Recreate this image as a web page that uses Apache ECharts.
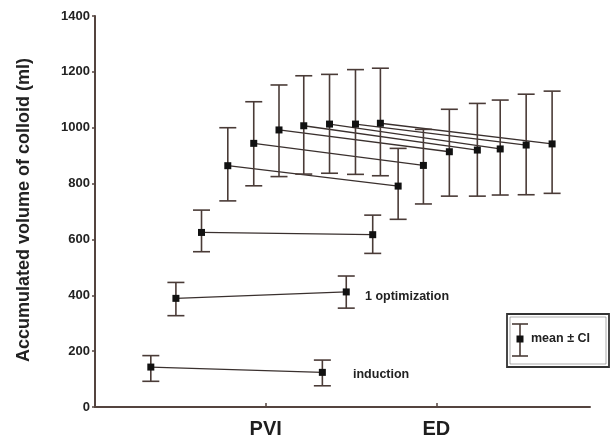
<!DOCTYPE html>
<html>
<head>
<meta charset="utf-8">
<script src="https://cdn.jsdelivr.net/npm/echarts@6/dist/echarts.min.js"></script>
<style>
html,body{margin:0;padding:0;background:#fff;}
#chart{width:612px;height:442px;}
</style>
</head>
<body>
<div id="chart"></div>
<script>
// x positions (axis units: PVI = 1, ED = 2)
var pviX = [0.327, 0.474, 0.624, 0.778, 0.930, 1.078, 1.223, 1.374, 1.526, 1.672];
var edX  = [1.332, 1.472, 1.627, 1.776, 1.924, 2.076, 2.240, 2.374, 2.526, 2.678];
// values (ml)
var pviMean = [143, 389, 625, 864, 944, 992, 1007, 1013, 1013, 1016];
var pviLow  = [92, 327, 556, 738, 792, 825, 834, 837, 833, 828];
var pviHigh = [184, 446, 705, 1000, 1093, 1153, 1186, 1191, 1208, 1213];
var edMean  = [124, 412, 617, 791, 865, 914, 920, 924, 938, 942];
var edLow   = [76, 354, 550, 672, 727, 755, 755, 759, 760, 765];
var edHigh  = [168, 469, 687, 926, 994, 1066, 1087, 1099, 1120, 1131];
var xTickValues = [1, 2];
var xTickLabels = ['PVI', 'ED'];
var yTicks = [0, 200, 400, 600, 800, 1000, 1200, 1400];
var yTitle = 'Accumulated volume of colloid (ml)';
var annotations = ['induction', '1 optimization'];
var legendText = 'mean \u00b1 CI';

var font = '"Liberation Sans", Arial, sans-serif';
var axisColor = '#54443f';
var barColor = '#4a3b37';
var lineColor = '#3a302e';

var errData = [];
for (var i = 0; i < pviX.length; i++) {
  errData.push([pviX[i], pviMean[i], pviLow[i], pviHigh[i]]);
  errData.push([edX[i], edMean[i], edLow[i], edHigh[i]]);
}

var series = [];
for (var j = 0; j < pviX.length; j++) {
  series.push({
    type: 'line',
    data: [[pviX[j], pviMean[j]], [edX[j], edMean[j]]],
    symbol: 'none',
    silent: true,
    lineStyle: {color: lineColor, width: 1.3},
    z: 2
  });
}

series.push({
  type: 'custom',
  data: errData,
  encode: {x: 0, y: 1},
  z: 3,
  renderItem: function (params, api) {
    var x = api.value(0);
    var pm = api.coord([x, api.value(1)]);
    var pl = api.coord([x, api.value(2)]);
    var ph = api.coord([x, api.value(3)]);
    var hw = 8.5;
    var st = {stroke: barColor, lineWidth: 1.6};
    return {
      type: 'group',
      children: [
        {type: 'line', shape: {x1: pl[0], y1: pl[1], x2: ph[0], y2: ph[1]}, style: st},
        {type: 'line', shape: {x1: pl[0] - hw, y1: pl[1], x2: pl[0] + hw, y2: pl[1]}, style: st},
        {type: 'line', shape: {x1: ph[0] - hw, y1: ph[1], x2: ph[0] + hw, y2: ph[1]}, style: st},
        {type: 'rect', shape: {x: pm[0] - 3.5, y: pm[1] - 3.5, width: 7, height: 7}, style: {fill: '#111'}}
      ]
    };
  }
});

var chart = echarts.init(document.getElementById('chart'), null, {renderer: 'canvas'});
chart.setOption({
  animation: false,
  backgroundColor: '#ffffff',
  grid: {left: 95, right: 22, top: 16, bottom: 35, containLabel: false},
  xAxis: {
    type: 'value',
    min: 0,
    max: 2.9,
    interval: 1,
    axisLine: {show: true, lineStyle: {color: axisColor, width: 2}},
    axisTick: {show: true, inside: true, length: 4, customValues: xTickValues, lineStyle: {color: axisColor, width: 1.5}},
    axisLabel: {
      customValues: xTickValues,
      formatter: function (v) { var k = xTickValues.indexOf(v); return k >= 0 ? xTickLabels[k] : ''; },
      fontFamily: font, fontWeight: 'bold', fontSize: 20, color: '#1e1e1e', margin: 12
    },
    splitLine: {show: false}
  },
  yAxis: {
    type: 'value',
    min: yTicks[0],
    max: yTicks[yTicks.length - 1],
    interval: 200,
    axisLine: {show: true, lineStyle: {color: axisColor, width: 2}},
    axisTick: {show: true, length: 3, lineStyle: {color: axisColor, width: 1.5}},
    axisLabel: {
      formatter: function (v) { return String(v); },
      fontFamily: font, fontWeight: 'bold', fontSize: 13, color: '#222', margin: 5
    },
    splitLine: {show: false}
  },
  graphic: [
    {type: 'text', x: 24, y: 210, rotation: Math.PI / 2,
      style: {text: yTitle, font: 'bold 18px ' + font, fill: '#222', align: 'center', verticalAlign: 'middle'}},
    {type: 'text', x: 353, y: 375,
      style: {text: annotations[0], font: 'bold 12.5px ' + font, fill: '#222', align: 'left', verticalAlign: 'middle'}},
    {type: 'text', x: 365, y: 297,
      style: {text: annotations[1], font: 'bold 12.5px ' + font, fill: '#222', align: 'left', verticalAlign: 'middle'}},
    {type: 'rect', shape: {x: 507, y: 314, width: 102, height: 53}, style: {fill: '#fff', stroke: '#333', lineWidth: 1.8}},
    {type: 'rect', shape: {x: 510, y: 317, width: 96, height: 47}, style: {fill: 'none', stroke: '#777', lineWidth: 0.6}},
    {type: 'line', shape: {x1: 520, y1: 324, x2: 520, y2: 356}, style: {stroke: barColor, lineWidth: 1.6}},
    {type: 'line', shape: {x1: 512, y1: 324, x2: 528, y2: 324}, style: {stroke: barColor, lineWidth: 1.6}},
    {type: 'line', shape: {x1: 512, y1: 356, x2: 528, y2: 356}, style: {stroke: barColor, lineWidth: 1.6}},
    {type: 'rect', shape: {x: 516.5, y: 335.5, width: 7, height: 7}, style: {fill: '#111'}},
    {type: 'text', x: 531, y: 339,
      style: {text: legendText, font: 'bold 12.5px ' + font, fill: '#222', align: 'left', verticalAlign: 'middle'}}
  ],
  series: series
});
</script>
</body>
</html>
